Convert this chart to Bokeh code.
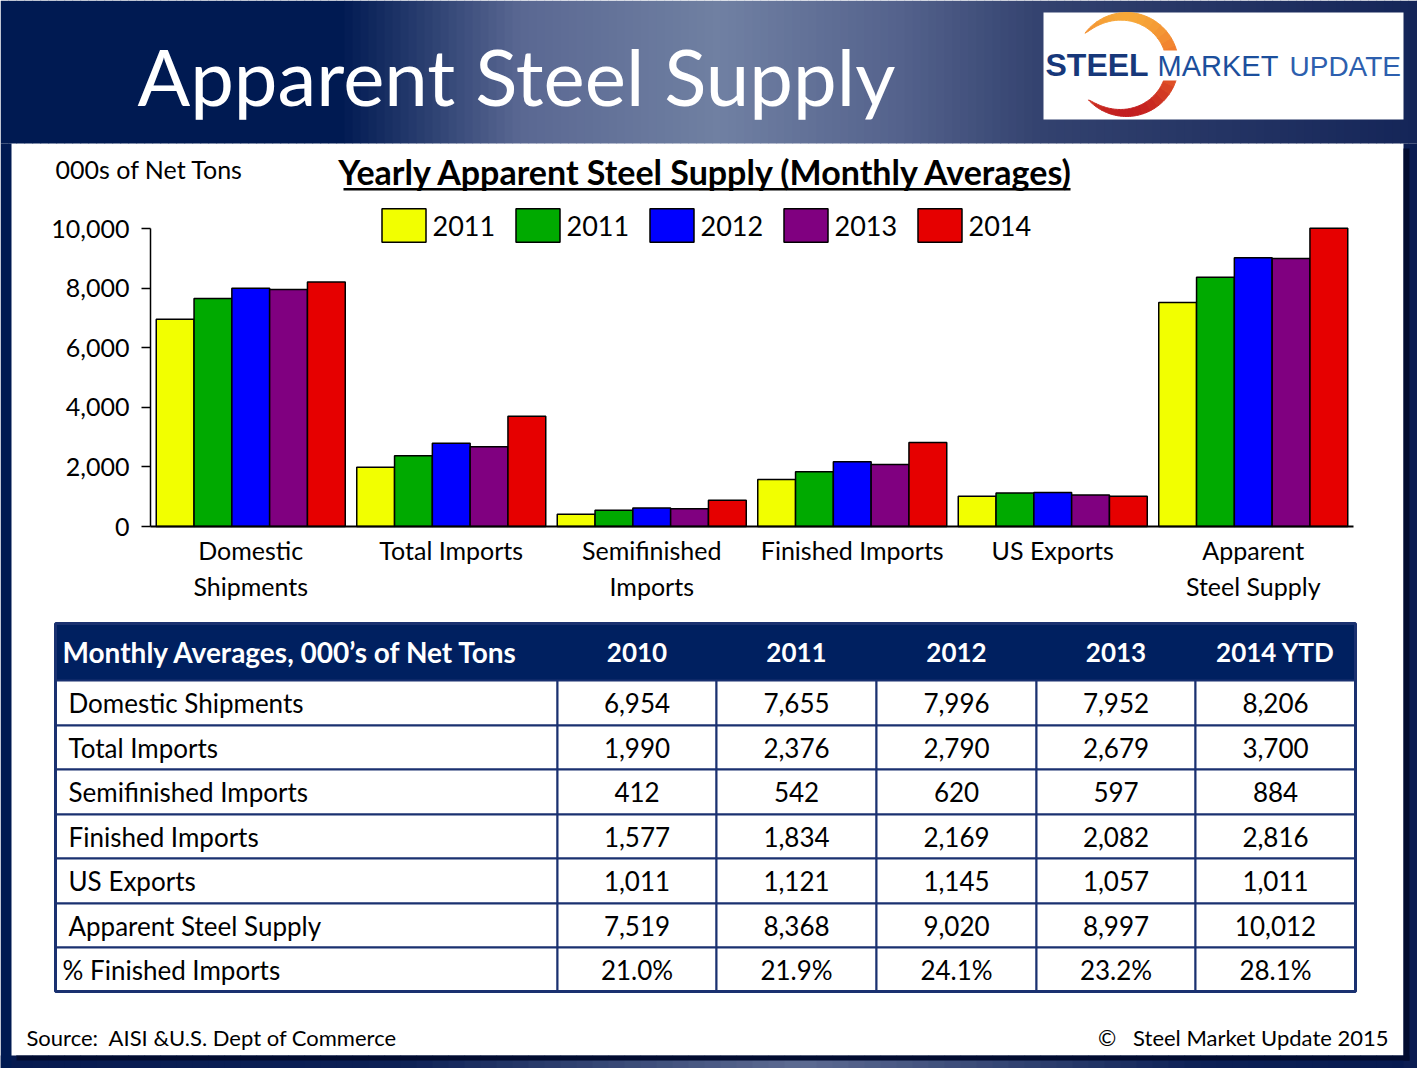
import numpy as np
from bokeh.plotting import figure
from bokeh.models import (Range1d, FixedTicker, NumeralTickFormatter,
                          Label, Legend, LegendItem, ColumnDataSource)
from bokeh.embed import file_html
from bokeh.resources import INLINE

# ---------------- data ----------------
categories = ["Domestic Shipments", "Total Imports", "Semifinished Imports",
              "Finished Imports", "US Exports", "Apparent Steel Supply"]
category_labels = ["Domestic\nShipments", "Total Imports", "Semifinished\nImports",
                   "Finished Imports", "US Exports", "Apparent\nSteel Supply"]
legend_labels = ["2011", "2011", "2012", "2013", "2014"]
table_years = ["2010", "2011", "2012", "2013", "2014 YTD"]
v2010 = [6954, 1990, 412, 1577, 1011, 7519]
v2011 = [7655, 2376, 542, 1834, 1121, 8368]
v2012 = [7996, 2790, 620, 2169, 1145, 9020]
v2013 = [7952, 2679, 597, 2082, 1057, 8997]
v2014 = [8206, 3700, 884, 2816, 1011, 10012]
pct_label = "% Finished Imports"
pct_finished = [21.0, 21.9, 24.1, 23.2, 28.1]
y_ticks = [0, 2000, 4000, 6000, 8000, 10000]
series = [v2010, v2011, v2012, v2013, v2014]

bar_colors = ["#f2ff00", "#00aa00", "#0000ff", "#800080", "#e60000"]

# ---------------- layout (page pixel coordinates) ----------------
W, H = 1417, 1068
FL, FR, FT, FB = 150, 1353, 228, 526      # chart plot area in page pixels
NCAT = len(categories)
YMAX = 10000
ux = (FR - FL) / NCAT          # pixels per category
uy = (FB - FT) / YMAX          # pixels per ton

p = figure(width=W, height=H,
           x_range=Range1d(-FL / ux, (W - FL) / ux),
           y_range=Range1d(-(H - FB) / uy, FB / uy),
           output_backend="svg", toolbar_location=None, title=None,
           min_border=0, min_border_left=0, min_border_right=0,
           min_border_top=0, min_border_bottom=0)
p.extra_x_ranges = {"px": Range1d(0, W)}
p.extra_y_ranges = {"px": Range1d(H, 0)}
p.outline_line_color = None
p.background_fill_color = "white"
p.border_fill_color = "white"
p.xgrid.visible = False
p.ygrid.visible = False

FONT = "Lato"
K_LATO = 0.387      # baseline offset below "middle" for Lato
K_LIB = 0.3465      # same for Liberation Sans


def hex2rgb(h):
    h = h.lstrip("#")
    return np.array([int(h[i:i + 2], 16) for i in (0, 2, 4)], dtype=float)


def interp(stops, x):
    pos = [s[0] for s in stops]
    cols = [hex2rgb(s[1]) for s in stops]
    c = [np.interp(x, pos, [cc[k] for cc in cols]) for k in range(3)]
    return "#%02x%02x%02x" % tuple(int(round(v)) for v in c)


def quads(l, t, r, b, fill, line=None, lw=0):
    n = len(l)
    fills = fill if isinstance(fill, list) else [fill] * n
    p.quad(left=l, right=r, top=t, bottom=b, x_range_name="px", y_range_name="px",
           fill_color=fills, fill_alpha=1.0 if fill is not None else 0.0,
           line_color=line, line_alpha=1.0 if line else 0.0, line_width=lw)


def label(x, y, text, size, color="black", font=FONT, style="normal", align="left"):
    p.add_layout(Label(x=x, y=y, x_range_name="px", y_range_name="px", text=text, text_font=font,
                       text_font_size="%dpx" % size, text_color=color, text_font_style=style,
                       text_align=align, text_baseline="middle"))


# ---------------- slide background ----------------
top_stops = [(0, "#001a52"), (340, "#001a52"), (520, "#5a6892"), (720, "#7080a2"),
             (900, "#54628c"), (1040, "#33426f"), (1417, "#142558")]
xs0 = list(range(0, W, 8))
quads(xs0, [0] * len(xs0), [x + 8.6 for x in xs0], [143] * len(xs0),
      [interp(top_stops, x + 4) for x in xs0])
bot_stops = [(0, "#061a50"), (400, "#0c2055"), (800, "#5d6b92"), (1200, "#0c2055"), (1417, "#061a50")]
xs1 = list(range(0, W, 16))
quads(xs1, [1055] * len(xs1), [x + 16.6 for x in xs1], [H] * len(xs1),
      [interp(bot_stops, x + 8) for x in xs1])
quads([0, 1403, 1403, 16], [143, 143, 148, 1055], [11, W, 1409, 1409], [H, H, 1060, 1060],
      ["#001a52", "#0b1d52", "#020c30", "#020c30"])

# logo
quads([1043], [12], [1403], [119], "white")
cx, cy, R = 1126, 64, 52
phi0, phi1 = -137.0, 143.0
nseg = 30
edges = np.linspace(phi0, phi1, nseg + 1)
cres_xs, cres_ys, cres_col = [], [], []
for k in range(nseg):
    ph = np.linspace(edges[k], edges[k + 1], 6)
    frac = (ph - phi0) / (phi1 - phi0)
    t = 12 * np.clip(np.sin(np.pi * frac), 0, 1) ** 0.7
    rad = np.radians(ph)
    ox = cx + R * np.cos(rad)
    oy = cy - R * np.sin(rad)
    ix = cx + (R - t) * np.cos(rad)
    iy = cy - (R - t) * np.sin(rad)
    cres_xs.append([float(v) for v in list(ox) + list(ix[::-1])])
    cres_ys.append([float(v) for v in list(oy) + list(iy[::-1])])
    cres_col.append(interp([(12, "#f7a838"), (64, "#ee6a2a"), (116, "#c21d1f")], float(np.mean(oy))))
p.patches(xs=cres_xs, ys=cres_ys, x_range_name="px", y_range_name="px",
          fill_color=cres_col, line_color=cres_col, line_width=1)
quads([1150], [50], [1192], [80], "white")

# chart title underline
quads([343], [187.5], [1070], [190], "black")

# ---------------- table shapes ----------------
col_x = [55, 557, 716, 876, 1036, 1195, 1355]
row_y = [623, 680, 725, 769, 814, 858, 903, 947, 991]
NAVY = "#002060"
LINE = "#1a3170"
quads([col_x[0]], [row_y[0]], [col_x[-1]], [row_y[1]], NAVY)
cl, ct, cr, cb = [], [], [], []
for r in range(1, len(row_y) - 1):
    for c in range(len(col_x) - 1):
        cl.append(col_x[c]); cr.append(col_x[c + 1]); ct.append(row_y[r]); cb.append(row_y[r + 1])
quads(cl, ct, cr, cb, "white", LINE, 2)
quads([col_x[0]], [row_y[0]], [col_x[-1]], [row_y[-1]], None, LINE, 3)

# ---------------- axes ----------------
yax = p.yaxis[0]
yax.fixed_location = 0
yax.bounds = (0, YMAX)
yax.ticker = FixedTicker(ticks=y_ticks)
yax.formatter = NumeralTickFormatter(format="0,0")
yax.major_tick_out = 9
yax.major_tick_in = 0
yax.minor_tick_out = 0
yax.minor_tick_in = 0
yax.major_tick_line_width = 1.5
yax.major_tick_line_color = "black"
yax.axis_line_color = "black"
yax.axis_line_width = 1.5
yax.major_label_text_font = FONT
yax.major_label_text_font_size = "25px"
yax.major_label_text_color = "black"
yax.major_label_standoff = 12

cat_pos = [i + 0.5 for i in range(NCAT)]
xax = p.xaxis[0]
xax.fixed_location = 0
xax.bounds = (0, NCAT)
xax.ticker = FixedTicker(ticks=cat_pos)
xax.major_label_overrides = {pos: lab for pos, lab in zip(cat_pos, category_labels)}
xax.major_tick_line_color = None
xax.minor_tick_line_color = None
xax.axis_line_color = "black"
xax.axis_line_width = 2
xax.major_label_text_font = FONT
xax.major_label_text_font_size = "25px"
xax.major_label_text_color = "black"
xax.major_label_standoff = 2

# ---------------- bars ----------------
bw = 37.8 / ux
renderers = []
for i, vals in enumerate(series):
    src = ColumnDataSource(dict(x=[c + (i - 2) * bw for c in cat_pos], top=vals, cat=categories))
    r = p.vbar(x="x", top="top", width=bw, source=src,
               fill_color=bar_colors[i], line_color="black", line_width=1.5)
    renderers.append(r)

legend = Legend(items=[LegendItem(label=legend_labels[i], renderers=[renderers[i]]) for i in range(5)],
                orientation="horizontal", location=(375.5, H - 246.25),
                glyph_width=55, glyph_height=42, label_standoff=2, label_width=63, spacing=14,
                padding=0, margin=0, border_line_alpha=0, background_fill_alpha=0,
                label_text_font=FONT, label_text_font_size="27px", label_text_color="black")
p.add_layout(legend)

# ---------------- texts ----------------
label(137, 106 - K_LATO * 78, "Apparent Steel Supply", 78, color="white")
label(1045, 76 - K_LIB * 32, "STEEL", 32, color="#17387a", font="Liberation Sans", style="bold")
label(1157, 76 - K_LIB * 29, "MARKET", 29, color="#1c4f9c", font="Liberation Sans")
label(1289, 76 - K_LIB * 28, "UPDATE", 28, color="#2d5fae", font="Liberation Sans")

label(55, 168, "000s of Net Tons", 25)
label(706.5, 184 - K_LATO * 34, "Yearly Apparent Steel Supply (Monthly Averages)", 34, style="bold",
      align="center")

hy = (row_y[0] + row_y[1]) / 2
label(62, hy, "Monthly Averages, 000\u2019s of Net Tons", 28, color="white", style="bold")
for c, yr in enumerate(table_years):
    label((col_x[c + 1] + col_x[c + 2]) / 2, hy, yr, 26, color="white", style="bold", align="center")

rows = [(categories[i], [s[i] for s in series]) for i in range(NCAT)]
for r, (name, vals) in enumerate(rows):
    yc = (row_y[r + 1] + row_y[r + 2]) / 2
    label(68, yc, name, 26)
    for c, v in enumerate(vals):
        label((col_x[c + 1] + col_x[c + 2]) / 2, yc, "{:,}".format(v), 26, align="center")
yc = (row_y[-2] + row_y[-1]) / 2
label(62, yc, pct_label, 26)
for c, v in enumerate(pct_finished):
    label((col_x[c + 1] + col_x[c + 2]) / 2, yc, "%.1f%%" % v, 26, align="center")

# footer
label(26, 1037, "Source:\u00a0 AISI &U.S. Dept of Commerce", 22)
label(1388, 1037, "\u00a9\u00a0\u00a0 Steel Market Update 2015", 22, align="right")

open("out.html", "w").write(file_html(p, INLINE))
